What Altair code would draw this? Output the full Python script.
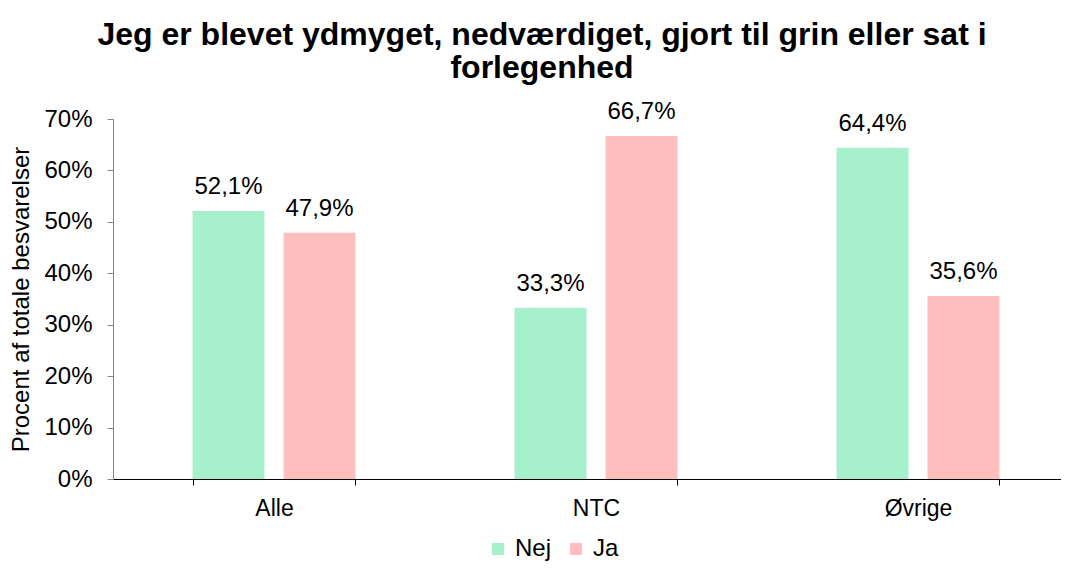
import altair as alt
import pandas as pd

categories = ["Alle", "NTC", "Øvrige"]
series = ["Nej", "Ja"]
nej_values = [52.1, 33.3, 64.4]
ja_values = [47.9, 66.7, 35.6]
y_ticks = [0, 10, 20, 30, 40, 50, 60, 70]
colors = ["#A6F0CB", "#FFBFBF"]

rows = []
for i, c in enumerate(categories):
    rows.append({"cat": c, "svar": "Nej", "value": nej_values[i]})
    rows.append({"cat": c, "svar": "Ja", "value": ja_values[i]})
df = pd.DataFrame(rows)

FONT = "Liberation Sans"

base = alt.Chart(df).encode(
    x=alt.X("cat:N", sort=categories,
            scale=alt.Scale(paddingInner=0.494, paddingOuter=0.247, range=[0, 966]),
            axis=alt.Axis(title=None, labelAngle=0, labelFontSize=23, labelFont=FONT,
                          labelColor="black", labelPadding=12, domainColor="black",
                          tickColor="black", tickSize=6, tickBand="extent",
                          domainWidth=1, tickWidth=1)),
    xOffset=alt.XOffset("svar:N", sort=series,
                        scale=alt.Scale(paddingInner=0.209, paddingOuter=0)),
    y=alt.Y("value:Q",
            scale=alt.Scale(domain=[0, 70], nice=False),
            axis=alt.Axis(title="Procent af totale besvarelser", values=y_ticks,
                          labelExpr="datum.value + '%'", grid=False,
                          labelFontSize=24, labelFont=FONT, labelColor="black",
                          labelPadding=15, tickSize=6, tickColor="#868686",
                          domainColor="#868686", titleFontSize=24, titleFont=FONT,
                          titleFontWeight="normal", titleColor="black",
                          titlePadding=10)),
)

bars = base.mark_bar().encode(
    color=alt.Color("svar:N", sort=series,
                    scale=alt.Scale(domain=series, range=colors),
                    legend=alt.Legend(title=None, orient="none", direction="horizontal",
                                      legendX=373, legendY=418, symbolType="square",
                                      symbolSize=144, symbolStrokeWidth=0,
                                      labelFontSize=24, labelFont=FONT,
                                      labelColor="black", labelOffset=5,
                                      columnPadding=12, symbolOpacity=1))
)

labels = base.mark_text(baseline="alphabetic", dy=-17, fontSize=24, font=FONT,
                        color="black").transform_calculate(
    label="replace(format(datum.value, '.1f'), '.', ',') + '%'"
).encode(text="label:N")

chart = (bars + labels).properties(
    width=948,
    height=360,
    title=alt.TitleParams(
        text=["Jeg er blevet ydmyget, nedværdiget, gjort til grin eller sat i",
              "forlegenhed"],
        fontSize=32, font=FONT, fontWeight="bold", color="black",
        anchor="middle", dx=-45, offset=15, lineHeight=33),
    autosize=alt.AutoSizeParams(type="none"),
    padding={"left": 105, "top": 111, "right": 0, "bottom": 82},
).configure_view(stroke=None)

chart.save("out.html", embed_options={"renderer": "svg", "actions": False})
